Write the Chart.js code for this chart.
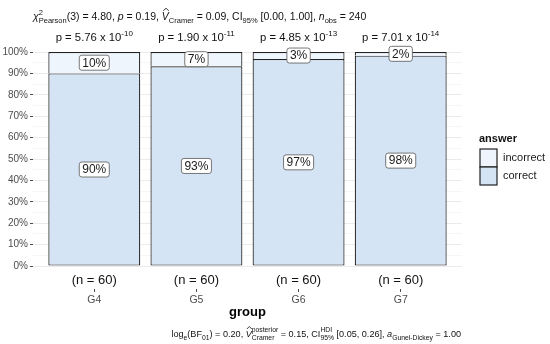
<!DOCTYPE html>
<html><head><meta charset="utf-8">
<script src="https://cdn.jsdelivr.net/npm/chart.js@4.4.1/dist/chart.umd.min.js"></script>
<style>html,body{margin:0;padding:0;background:#fff}#wrap{width:550px;height:344px}</style>
</head><body><div id="wrap"><canvas id="c" width="550" height="344"></canvas></div>
<script>
const groups = ['G4','G5','G6','G7'];
const groupX = [1,2,3,4];
const correct = [90, 93.3, 96.7, 98.3];
const incorrect = [10, 6.7, 3.3, 1.7];
const sampleN = [60, 60, 60, 60];
const pMant = ['5.76','1.90','4.85','7.01'];
const pExp = ['-10','-11','-13','-14'];
const yTicks = [0,5,10,15,20,25,30,35,40,45,50,55,60,65,70,75,80,85,90,95,100];

const FONT = '"Liberation Sans", Arial, sans-serif';
const colCorrect = '#d5e4f4';
const colIncorrect = '#eef5fc';

function segWidth(ctx, seg) {
  if (seg.sup !== undefined || seg.sub !== undefined) {
    let w = 0;
    ctx.font = `${seg.ss}px ${FONT}`;
    if (seg.sup) w = Math.max(w, ctx.measureText(seg.sup).width);
    if (seg.sub) w = Math.max(w, ctx.measureText(seg.sub).width);
    return w;
  }
  ctx.font = `${seg.it ? 'italic ' : ''}${seg.b ? 'bold ' : ''}${seg.s}px ${FONT}`;
  return ctx.measureText(seg.t).width;
}
function drawRich(ctx, segs, x, y, align) {
  let total = 0;
  segs.forEach(s => total += segWidth(ctx, s));
  let cx = align === 'right' ? x - total : align === 'center' ? x - total / 2 : x;
  ctx.textBaseline = 'alphabetic';
  ctx.textAlign = 'left';
  segs.forEach(s => {
    const w = segWidth(ctx, s);
    if (s.sup !== undefined || s.sub !== undefined) {
      ctx.font = `${s.ss}px ${FONT}`;
      if (s.sup) ctx.fillText(s.sup, cx, y - s.supdy);
      if (s.sub) ctx.fillText(s.sub, cx, y + s.subdy);
    } else {
      ctx.font = `${s.it ? 'italic ' : ''}${s.b ? 'bold ' : ''}${s.s}px ${FONT}`;
      ctx.fillText(s.t, cx, y + (s.dy || 0));
      if (s.hat) {
        const hy = y - s.s * 0.88;
        ctx.save();
        ctx.lineWidth = 0.8;
        ctx.strokeStyle = ctx.fillStyle;
        ctx.beginPath();
        ctx.moveTo(cx + w * 0.2, hy);
        ctx.lineTo(cx + w * 0.6, hy - 2.5);
        ctx.lineTo(cx + w * 1.0, hy);
        ctx.stroke();
        ctx.restore();
      }
    }
    cx += w;
  });
}

const subtitle = [
  {t:'\u03C7', s:10.5, it:true},
  {sup:'2', sub:'Pearson', ss:7.5, supdy:5, subdy:3},
  {t:'(3) = 4.80, ', s:10.5},
  {t:'p', s:10.5, it:true},
  {t:' = 0.19, ', s:10.5},
  {t:'V', s:10.5, it:true, hat:true},
  {sup:'', sub:'Cramer', ss:7.5, supdy:5, subdy:3},
  {t:' = 0.09, CI', s:10.5},
  {sup:'', sub:'95%', ss:7.5, supdy:5, subdy:3},
  {t:' [0.00, 1.00], ', s:10.5},
  {t:'n', s:10.5, it:true},
  {sup:'', sub:'obs', ss:7.5, supdy:5, subdy:3},
  {t:' = 240', s:10.5}
];
const caption = [
  {t:'log', s:9.1},
  {sup:'', sub:'e', ss:6.8, supdy:5, subdy:3},
  {t:'(BF', s:9.1},
  {sup:'', sub:'01', ss:6.8, supdy:5, subdy:3},
  {t:') = 0.20, ', s:9.1},
  {t:'V', s:9.1, it:true, hat:true},
  {sup:'posterior', sub:'Cramer', ss:6.8, supdy:5, subdy:3},
  {t:' = 0.15, CI', s:9.1},
  {sup:'HDI', sub:'95%', ss:6.8, supdy:5, subdy:3},
  {t:' [0.05, 0.26], ', s:9.1},
  {t:'a', s:9.1, it:true},
  {sup:'', sub:'Gunel-Dickey', ss:6.8, supdy:5, subdy:3},
  {t:' = 1.00', s:9.1}
];

const decor = {
  id: 'decor',
  afterDatasetsDraw(chart) {
    const ctx = chart.ctx;
    const xs = chart.scales.x, ys = chart.scales.y;
    ctx.save();
    chart.data.datasets.forEach((ds, di) => {
      const meta = chart.getDatasetMeta(di);
      meta.data.forEach((bar, j) => {
        const txt = Math.round(ds.data[j].y) + '%';
        const cy = (bar.y + bar.base) / 2;
        ctx.font = `12px ${FONT}`;
        const tw = ctx.measureText(txt).width;
        const bw = tw + 6, bh = 15;
        const bx = bar.x - bw / 2, by = cy - bh / 2;
        ctx.beginPath();
        ctx.roundRect(bx, by, bw, bh, 2.5);
        ctx.fillStyle = '#ffffff';
        ctx.fill();
        ctx.lineWidth = 0.8;
        ctx.strokeStyle = '#555';
        ctx.stroke();
        ctx.fillStyle = '#1a1a1a';
        ctx.textAlign = 'center';
        ctx.textBaseline = 'middle';
        ctx.fillText(txt, bar.x, cy + 0.5);
      });
    });
    ctx.fillStyle = '#111';
    groupX.forEach((gx, i) => {
      ctx.font = `13px ${FONT}`;
      ctx.textAlign = 'center';
      ctx.textBaseline = 'middle';
      ctx.fillText(`(n = ${sampleN[i]})`, xs.getPixelForValue(gx), ys.getPixelForValue(0) + 14);
    });
    groupX.forEach((gx, i) => {
      ctx.fillStyle = '#111';
      drawRich(ctx, [
        {t:`p = ${pMant[i]} x 10`, s:11.3},
        {sup:pExp[i], sub:'', ss:8, supdy:5.5, subdy:0}
      ], xs.getPixelForValue(gx), 41, 'center');
    });
    ctx.fillStyle = '#111';
    drawRich(ctx, subtitle, 33, 20, 'left');
    drawRich(ctx, caption, 461, 337, 'right');
    const lx = 480;
    ctx.fillStyle = '#111';
    ctx.font = `bold 11px ${FONT}`;
    ctx.textAlign = 'left';
    ctx.textBaseline = 'middle';
    ctx.fillText('answer', lx - 1, 139);
    const items = [
      {label:'incorrect', col: colIncorrect, y:149},
      {label:'correct', col: colCorrect, y:167}
    ];
    items.forEach(it => {
      ctx.fillStyle = it.col;
      ctx.fillRect(lx, it.y, 17, 18);
      ctx.lineWidth = 1.2;
      ctx.strokeStyle = '#222';
      ctx.strokeRect(lx, it.y, 17, 18);
      ctx.fillStyle = '#1a1a1a';
      ctx.font = `11px ${FONT}`;
      ctx.fillText(it.label, 503, it.y + 9);
    });
    ctx.restore();
  }
};

new Chart(document.getElementById('c'), {
  type: 'bar',
  data: {
    datasets: [
      {label:'correct', data: groupX.map((x,i)=>({x, y: correct[i]})), backgroundColor: colCorrect,
       borderColor:'#222', borderWidth:1.2, borderSkipped:false},
      {label:'incorrect', data: groupX.map((x,i)=>({x, y: incorrect[i]})), backgroundColor: colIncorrect,
       borderColor:'#222', borderWidth:1.2, borderSkipped:'start'}
    ]
  },
  options: {
    responsive:false, animation:false, devicePixelRatio:1,
    layout:{padding:{left:0, top:52, right:88, bottom:22}},
    datasets:{bar:{barPercentage:0.9, categoryPercentage:1}},
    plugins:{legend:{display:false}, tooltip:{enabled:false}},
    scales:{
      x:{type:'linear', stacked:true, min:0.4, max:4.6, offset:false,
        afterBuildTicks: s => { s.ticks = groupX.map(v => ({value:v})); },
        afterFit: s => { s.height = 33; },
        ticks:{callback:(v)=>groups[groupX.indexOf(v)] || '', color:'#4d4d4d', font:{family:FONT, size:10.5}, padding:2, maxRotation:0, autoSkip:false},
        grid:{offset:false, drawOnChartArea:false, drawTicks:true, tickLength:3, tickColor:'#4d4d4d', color:'#4d4d4d'},
        border:{display:false},
        title:{display:true, text:'group', color:'#000', font:{family:FONT, size:13, weight:'bold'}, padding:{top:0,bottom:2}}
      },
      y:{type:'linear', stacked:true, min:-10.7, max:100,
        afterBuildTicks: s => { s.ticks = yTicks.map(v => ({value:v})); },
        afterFit: s => { s.width = 33; },
        ticks:{callback:(v)=> v % 10 === 0 ? v + '%' : '', color:'#4d4d4d', font:{family:FONT, size:10}, padding:2, autoSkip:false},
        grid:{
          color: c => (c.tick && c.tick.value % 10 === 0) ? '#ebebeb' : '#f6f6f6',
          tickColor: c => (c.tick && c.tick.value % 10 === 0) ? '#4d4d4d' : 'rgba(0,0,0,0)',
          tickLength:3, lineWidth:1
        },
        border:{display:false}
      }
    }
  },
  plugins:[decor]
});
</script></body></html>
